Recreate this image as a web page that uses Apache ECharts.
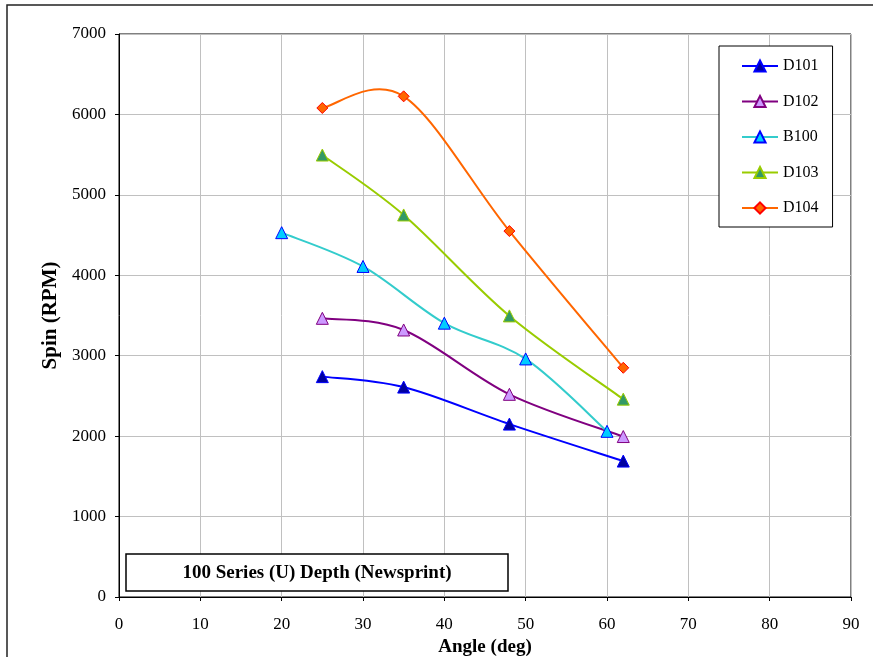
<!DOCTYPE html>
<html>
<head>
<meta charset="utf-8">
<script src="https://cdn.jsdelivr.net/npm/echarts@6/dist/echarts.min.js"></script>
<style>html,body{margin:0;padding:0;background:#fff;overflow:hidden}#c{width:873px;height:657px}</style>
</head>
<body>
<div id="c"></div>
<script>
// ---- data ----
var seriesNames = ['D101', 'D102', 'B100', 'D103', 'D104'];
var d101 = [[25, 2740], [35, 2610], [48, 2150], [62, 1690]];
var d102 = [[25, 3465], [35, 3320], [48, 2520], [62, 1995]];
var b100 = [[20, 4530], [30, 4110], [40, 3405], [50, 2960], [60, 2060]];
var d103 = [[25, 5495], [35, 4750], [48, 3495], [62, 2460]];
var d104 = [[25, 6080], [35, 6225], [48, 4550], [62, 2850]];
var xTicks = [0, 10, 20, 30, 40, 50, 60, 70, 80, 90];
var yTicks = [0, 1000, 2000, 3000, 4000, 5000, 6000, 7000];
var chartTitle = '100 Series (U) Depth (Newsprint)';
var xTitle = 'Angle (deg)';
var yTitle = 'Spin (RPM)';

var FONT = '"Liberation Serif", "Times New Roman", serif';
var styles = [
  {line: '#0000ff', fill: '#0000a0', border: '#0000ff', symbol: 'triangle'},
  {line: '#800080', fill: '#cc99ff', border: '#800080', symbol: 'triangle'},
  {line: '#33cccc', fill: '#00ccff', border: '#0000ff', symbol: 'triangle'},
  {line: '#99cc00', fill: '#339966', border: '#99cc00', symbol: 'triangle'},
  {line: '#ff6600', fill: '#ff6600', border: '#ff0000', symbol: 'diamond'}
];
var datas = [d101, d102, b100, d103, d104];

// Excel-like (Catmull-Rom) smoothing drawn through the axis scales via api.coord
function smoothRenderer(points, color) {
  return function (params, api) {
    if (params.dataIndex !== 0) return null;
    var p = points.map(function (d) { return api.coord(d); });
    var n = p.length, children = [];
    for (var i = 0; i < n - 1; i++) {
      var p0 = p[Math.max(i - 1, 0)], p1 = p[i], p2 = p[i + 1], p3 = p[Math.min(i + 2, n - 1)];
      children.push({
        type: 'bezierCurve',
        shape: {
          x1: p1[0], y1: p1[1], x2: p2[0], y2: p2[1],
          cpx1: p1[0] + (p2[0] - p0[0]) / 6, cpy1: p1[1] + (p2[1] - p0[1]) / 6,
          cpx2: p2[0] - (p3[0] - p1[0]) / 6, cpy2: p2[1] - (p3[1] - p1[1]) / 6
        },
        style: {stroke: color, lineWidth: 2, fill: null}
      });
    }
    return {type: 'group', children: children};
  };
}

var chart = echarts.init(document.getElementById('c'), null, {renderer: 'canvas', width: 873, height: 657});
var series = [];
seriesNames.forEach(function (n, i) {
  var s = styles[i];
  series.push({
    name: n + ' curve', type: 'custom', data: datas[i], encode: {x: 0, y: 1},
    renderItem: smoothRenderer(datas[i], s.line), z: 1, silent: true, animation: false
  });
});
seriesNames.forEach(function (n, i) {
  var s = styles[i];
  series.push({
    name: n, type: 'line', data: datas[i], smooth: false,
    symbol: s.symbol, symbolSize: s.symbol === 'diamond' ? 11 : 12, showSymbol: true,
    lineStyle: {color: s.line, width: 2, opacity: 0},
    itemStyle: {color: s.fill, borderColor: s.border, borderWidth: 1},
    emphasis: {disabled: true}, animation: false, z: 3
  });
});

chart.setOption({
  animation: false,
  backgroundColor: '#fff',
  grid: {left: 119, top: 34, width: 732, height: 563, show: true, borderColor: '#000', borderWidth: 1,
         containLabel: false, outerBoundsMode: 'none'},
  xAxis: {
    type: 'value', min: xTicks[0], max: xTicks[xTicks.length - 1], interval: 10,
    name: xTitle, nameLocation: 'middle', nameGap: 37,
    nameTextStyle: {fontFamily: FONT, fontWeight: 'bold', fontSize: 19, color: '#000'},
    axisLine: {show: true, lineStyle: {color: '#000', width: 1}},
    axisTick: {show: true, inside: false, length: 4, lineStyle: {color: '#000'}},
    axisLabel: {fontFamily: FONT, fontSize: 17, color: '#000', margin: 19, formatter: function (v) { return String(v); }},
    splitLine: {show: true, lineStyle: {color: '#c0c0c0', width: 1}}
  },
  yAxis: {
    type: 'value', min: yTicks[0], max: yTicks[yTicks.length - 1], interval: 1000,
    name: yTitle, nameLocation: 'middle', nameGap: 55, nameRotate: 90,
    nameTextStyle: {fontFamily: FONT, fontWeight: 'bold', fontSize: 21, color: '#000'},
    axisLine: {show: true, lineStyle: {color: '#000', width: 1}},
    axisTick: {show: true, inside: false, length: 4, lineStyle: {color: '#000'}},
    axisLabel: {fontFamily: FONT, fontSize: 17, color: '#000', margin: 13, formatter: function (v) { return String(v); }},
    splitLine: {show: true, lineStyle: {color: '#c0c0c0', width: 1}}
  },
  legend: {
    orient: 'vertical', left: 719, top: 46,
    backgroundColor: '#fff', borderColor: '#000', borderWidth: 1,
    padding: [12, 14, 11, 22], itemWidth: 36, itemHeight: 14, itemGap: 19.5,
    textStyle: {fontFamily: FONT, fontSize: 16, color: '#000'},
    lineStyle: {opacity: 1, width: 2},
    data: seriesNames
  },
  graphic: [
    {type: 'rect', x: 7, y: 5, shape: {x: 0, y: 0, width: 900, height: 700}, style: {fill: 'none', stroke: '#222', lineWidth: 1.5}, silent: true, z: -10},
    {type: 'rect', x: 126, y: 554, shape: {x: 0, y: 0, width: 382, height: 37}, style: {fill: '#fff', stroke: '#000', lineWidth: 1.5}, z: 100},
    {type: 'text', x: 317, y: 573, style: {text: chartTitle, font: 'bold 19px ' + FONT, fill: '#000', align: 'center', verticalAlign: 'middle'}, z: 101}
  ],
  series: series
});
</script>
</body>
</html>
